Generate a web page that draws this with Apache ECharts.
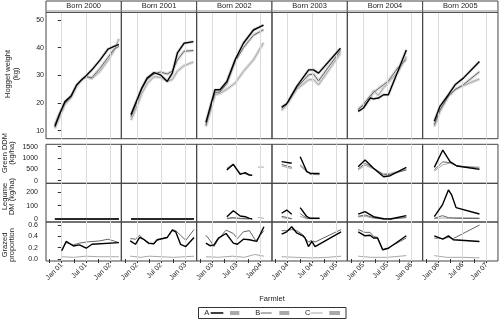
<!DOCTYPE html>
<html><head><meta charset="utf-8">
<script src="https://cdn.jsdelivr.net/npm/echarts@6/dist/echarts.min.js"></script>
<style>html,body{margin:0;padding:0;background:#fff}#c{width:500px;height:321px}</style>
</head><body><div id="c"></div>
<script>
// ---------- DATA (x = months relative to January after birth year) ----------
const strips = ['Born 2000','Born 2001','Born 2002','Born 2003','Born 2004','Born 2005'];
const xTickLabels = [
  ['Jan 01','Jul 01','Jan 02'],['Jan 02','Jul 02','Jan 03'],['Jan 03','Jul 03','Jan04'],
  ['Jan 04','Jul 04','Jan 05'],['Jan 05','Jul 05','Jan 06'],['Jan 06','Jul 06','Jan 07']];
const xTickMonths = [-3,0,3,6,9,12];
const xLabelMonths = [0,6,12];
const rowTitles = [['Hogget weight','(kg)'],['Green DDM','(kg/ha)'],['Legume','DM (kg/ha)'],['Grazed','proportion']];
const yTicks = [[10,20,30,40,50],[0,500,1000,1500],[0,100,200],[0,0.2,0.4,0.6]];
const legendNames = ['A','B','C'];

// Hogget weight (kg)
const weightA = [
  [[-1.7,11.5],[-0.5,16],[0.8,20.5],[2.3,22.5],[3.7,26.5],[5.0,28.5],[6.0,29.8],[7.5,32],[9.5,35.5],[11.5,39.5],[13.0,40.5],[14.2,41.2]],
  [[-1.5,15.8],[0,21.2],[1.2,25.5],[2.5,29],[4.2,31],[5.8,30.2],[7.5,27.8],[8.75,30.8],[10,38],[11.65,41.6],[14,42.2]],
  [[-1.6,13],[0.65,24.8],[1.9,24.8],[3.6,27.8],[5.65,35.6],[7.7,41.6],[10.2,46.4],[12.7,48.2]],
  [[-1.5,18.5],[-0.25,19.7],[2.25,26],[5.2,32],[6.4,32],[7.65,30.8],[13.1,39.8]],
  [[-1.2,17],[0.1,18.2],[1.75,21.8],[2.6,21.5],[3.8,21.8],[5.1,23],[6.3,23],[8.8,32],[10.75,39.2]],
  [[-1,13.4],[0.4,18.8],[2.5,23],[4.15,26.6],[6.2,29],[10.2,35]]
];
const weightB = [
  [[-1.7,12.2],[-0.5,16.5],[0.8,20],[2.3,22],[3.7,26.5],[5.0,28.3],[6.0,29.5],[7.5,29.2],[9.5,32.5],[11.5,36.5],[13.0,39.5],[14.2,40.5]],
  [[-1.5,15],[0,20.5],[1.2,25],[2.5,28.5],[4.2,30.5],[5.8,31.2],[7.5,30.5],[8.75,31.5],[10,35.5],[11.65,38.7],[14,39]],
  [[-1.6,12],[0.65,23.8],[1.9,24],[3.6,27],[5.65,35],[7.7,40],[10.2,44.5],[12.7,46.5]],
  [[-1.5,18],[-0.25,19.7],[2.25,25.5],[5.2,30.2],[6.4,30.5],[7.65,28],[13.1,39]],
  [[-1.2,17.5],[0.1,19.5],[1.75,22.5],[2.6,23.8],[3.8,25.2],[5.1,26.6],[6.3,28],[8.8,33],[10.75,35.8]],
  [[-1,12.2],[0.4,17.5],[2.5,22.5],[4.15,24.8],[6.2,26.6],[10.2,31.3]]
];
const weightC = [
  [[-1.7,10.8],[-0.5,15],[0.8,19.5],[2.3,22],[3.7,26],[5.0,28.5],[6.0,29.5],[7.5,28.8],[9.5,31.5],[11.5,35.5],[13.0,39],[14.2,43.2]],
  [[-1.5,13.8],[0,19],[1.2,23.5],[2.5,27],[4.2,29.5],[5.8,29.3],[7.5,27.8],[8.75,28.5],[10,31.5],[11.65,33.5],[14,34.8]],
  [[-1.6,11.5],[0.65,23],[1.9,23.5],[3.6,25],[5.65,27.2],[7.7,31.4],[10.2,35.6],[12.7,41.8]],
  [[-1.5,17.3],[-0.25,19.3],[2.25,25],[5.2,28.4],[6.4,28.5],[7.65,26.6],[13.1,38]],
  [[-1.2,18],[0.1,19],[1.75,21.5],[2.6,24.5],[3.8,22.8],[5.1,25.5],[6.3,27.5],[8.8,31.5],[10.75,36.8]],
  [[-1,11.5],[0.4,17],[2.5,22.5],[4.15,25],[6.2,26.3],[10.2,28.7]]
];
// Green DDM (kg/ha)
const greenA = [
  [],[],
  [[3.6,470],[5.2,723],[6.9,282],[8.15,353],[9.2,250],[9.9,240]],
  [[-1.5,840],[1.0,770],[2,null],[3.1,1060],[4.75,400],[5.6,330],[7.9,320]],
  [[-1.2,617],[0.5,913],[2.6,547],[5.1,176],[6.75,220],[10.75,590]],
  [[-1,590],[1.1,1354],[2.9,838],[4.6,648],[10.2,502]]
];
const greenB = [
  [],[],
  [[3.6,520],[5.2,700],[6.9,320],[8.15,320],[9.2,270]],
  [[-1.5,720],[1.0,590],[2,null],[3.1,700],[4.75,420],[5.6,300],[7.9,290]],
  [[-1.2,520],[0.5,760],[2.6,560],[5.1,260],[6.75,280],[10.75,470]],
  [[-1,480],[1.1,830],[2.9,800],[4.6,660],[10.2,550]]
];
const greenC = [
  [],[],
  [[3.6,560],[5.2,740],[6.9,330],[8.15,300],[9.2,230],[10.5,null],[11.3,600],[12.8,600]],
  [[-1.5,650],[1.0,530],[2,null],[3.1,650],[4.75,380],[5.6,280],[7.9,260]],
  [[-1.2,470],[0.5,680],[2.6,520],[5.1,300],[6.75,330],[10.75,500]],
  [[-1,420],[1.1,700],[2.9,780],[4.6,640],[10.2,600]]
];
// Legume DM (kg/ha)
const legumeA = [
  [[-1.7,0],[14.2,0]],
  [[-1.5,0],[14.15,0]],
  [[3.6,17],[5.2,62],[6.9,22],[8.15,17],[9.2,5],[9.9,0]],
  [[-1.5,43],[-0.25,67],[1.0,35],[2,null],[3.1,85],[4.75,17],[5.6,5],[7.9,5]],
  [[-1.2,37],[0.5,55],[2.6,17],[5.1,2],[6.75,0],[10.75,25]],
  [[-1,17],[1,105],[2.5,217],[3.3,180],[4.4,85],[10.2,37]]
];
const legumeB = [
  [[-1.7,0],[14.2,0]],
  [[-1.5,0],[14.15,0]],
  [[3.6,5],[5.2,10],[6.9,5],[8.15,3],[9.2,2]],
  [[-1.5,20],[1.0,3],[2,null],[3.1,40],[4.75,5],[7.9,3]],
  [[-1.2,20],[0.5,30],[2.6,10],[5.1,0],[6.75,0],[10.75,10]],
  [[-1,5],[1,25],[2.5,10],[4.4,5],[10.2,3]]
];
const legumeC = [
  [[-1.7,0],[14.2,0]],
  [[-1.5,0],[14.15,0]],
  [[3.6,2],[5.2,5],[6.9,2],[8.15,0],[9.2,0],[10.5,null],[11.3,12],[12.8,5]],
  [[-1.5,10],[1.0,0],[2,null],[3.1,20],[4.75,2],[7.9,2]],
  [[-1.2,15],[0.5,20],[2.6,5],[5.1,0],[6.75,0],[10.75,15]],
  [[-1,2],[1,8],[2.5,5],[4.4,10],[10.2,8]]
];
// Grazed proportion
const grazedA = [
  [[0,0.147],[1.1,0.31],[2.9,0.23],[4.4,0.25],[6.1,0.19],[7.5,0.26],[14.2,0.29]],
  [[-1.7,0.32],[-0.4,0.26],[0.65,0.38],[1.8,0.34],[2.9,0.28],[4.15,0.27],[5,0.34],[7.5,0.38],[8.75,0.51],[9.6,0.48],[10.8,0.26],[12.1,0.22],[14.15,0.38]],
  [[-1.6,0.28],[-0.6,0.235],[0.4,0.25],[1.5,0.37],[3.4,0.45],[5.2,0.28],[6.2,0.26],[7.7,0.35],[9.2,0.34],[11,0.31],[12.8,0.57]],
  [[-1.5,0.44],[-0.25,0.48],[1.0,0.57],[2.25,0.46],[3.75,0.41],[4.3,0.37],[5.15,0.22],[6.0,0.31],[6.8,0.22],[13.25,0.48]],
  [[-1.2,0.48],[0.5,0.41],[1.75,0.42],[2.6,0.37],[3.6,0.37],[4.9,0.16],[6.3,0.19],[10.75,0.41]],
  [[-1,0.41],[1.1,0.35],[2.5,0.41],[3.7,0.34],[10.2,0.31]]
];
const grazedB = [
  [[0,0.15],[1.1,0.29],[2.9,0.25],[4.4,0.28],[6.1,0.3],[9.5,0.32],[11.5,0.35],[14.2,0.29]],
  [[-1.7,0.36],[-0.4,0.35],[0.65,0.42],[1.8,0.33],[2.9,0.27],[4.15,0.27],[5,0.33],[7.5,0.38],[8.75,0.52],[9.6,0.5],[10.8,0.42],[12.1,0.33],[14.15,0.52]],
  [[-1.6,0.42],[-0.6,0.33],[0.4,0.22],[1.5,0.35],[3.4,0.51],[5.2,0.45],[6.2,0.36],[7.7,0.48],[9.2,0.5],[10.8,0.32],[12.8,0.5]],
  [[-1.5,0.5],[-0.25,0.5],[1.0,0.52],[2.25,0.5],[3.75,0.43],[4.3,0.37],[5.15,0.3],[6.0,0.33],[6.8,0.3],[13.25,0.52]],
  [[-1.2,0.52],[0.5,0.47],[1.75,0.47],[2.6,0.4],[3.6,0.38],[4.9,0.17],[6.3,0.2],[10.75,0.37]],
  [[-1,0.37],[1.1,0.36],[2.5,0.38],[3.7,0.36],[10.2,0.6]]
];
const grazedC = [
  [[0,0.04],[3,0.03],[6,0.05],[9,0.04],[14.2,0.04]],
  [[-1.7,0.05],[1,0.03],[3,0.05],[6,0.04],[9,0.03],[12,0.04],[14.15,0.05]],
  [[-1.6,0.04],[1.5,0.03],[5,0.05],[8,0.03],[10.5,0.08],[12.8,0.05]],
  [[-1.5,0.04],[2,0.03],[6,0.02],[10,0.03],[13.25,0.05]],
  [[-1.2,0.05],[2,0.03],[6,0.03],[10.75,0.06]],
  [[-1,0.06],[2,0.03],[6,0.03],[10.2,0.02]]
];

// ---------- LAYOUT ----------
const FONT = 'Liberation Sans, Arial, Helvetica, sans-serif';
const L0 = 46, CW = 75.33;
const rowBox = [[12.3,138.7],[144.3,183.3],[183.3,222],[222,261]];
const yRange = [[7.1,52.8],[-115,1606],[-22.5,267],[-0.035,0.653]];
const xRange = [-3.9,14.8];
const rows = [
  {A:weightA,B:weightB,C:weightC,band:true},
  {A:greenA,B:greenB,C:greenC},
  {A:legumeA,B:legumeB,C:legumeC},
  {A:grazedA,B:grazedB,C:grazedC}
];
const lineColor = {A:'#000000',B:'#666666',C:'#a8a8a8'};
const lineWidth = {A:1.4,B:1,C:1};

const grid=[], xAxis=[], yAxis=[], series=[];
for (let r=0;r<4;r++){
  for (let c=0;c<6;c++){
    const g=r*6+c;
    grid.push({left:L0+c*CW, top:rowBox[r][0], width:CW, height:rowBox[r][1]-rowBox[r][0],
      show:true, borderColor:'#444', borderWidth:1, backgroundColor:'transparent', containLabel:false});
    xAxis.push({type:'value', gridIndex:g, min:xRange[0], max:xRange[1],
      splitLine:{show:false}, axisLine:{show:false},
      axisTick:{show:r===3, customValues:xTickMonths, length:4, lineStyle:{color:'#333'}},
      axisLabel:{show:r===3, customValues:xLabelMonths, rotate:45, fontSize:7, margin:3,
        color:'#222', fontFamily:FONT, formatter:(v)=>xTickLabels[c][xLabelMonths.indexOf(v)]}});
    yAxis.push({type:'value', gridIndex:g, min:yRange[r][0], max:yRange[r][1],
      splitLine:{show:false}, axisLine:{show:false},
      axisTick:{show:c===0, customValues:yTicks[r], length:4, lineStyle:{color:'#333'}},
      axisLabel:{show:c===0, customValues:yTicks[r], fontSize:7, margin:r===0?2:8,
        color:'#222', fontFamily:FONT, formatter:(v)=> r===3? v.toFixed(1) : String(v)}});
    // vertical reference lines at Jan / Jul / Jan
    series.push({type:'line', xAxisIndex:g, yAxisIndex:g, data:[], silent:true, z:1,
      markLine:{silent:true, symbol:['none','none'], label:{show:false}, animation:false,
        lineStyle:{color:'#dcdcdc', width:1, type:'solid'},
        data:xLabelMonths.map(m=>({xAxis:m}))}});
    const row=rows[r];
    ['C','B','A'].forEach((k,i)=>{
      const d=row[k][c];
      if(!d.length) return;
      if(row.band){
        series.push({type:'line', xAxisIndex:g, yAxisIndex:g, data:d, symbol:'none', silent:true,
          z:2, lineStyle:{color:'#dadada', width:3.2, opacity:0.9}, animation:false});
      }
      series.push({type:'line', xAxisIndex:g, yAxisIndex:g, data:d, symbol:'none', silent:true,
        z:3+i, lineStyle:{color:lineColor[k], width:lineWidth[k]}, animation:false});
    });
  }
}

// ---------- GRAPHIC (strips, titles, legend) ----------
const graphic=[];
strips.forEach((s,c)=>{
  const x=L0+c*CW;
  graphic.push({type:'rect', shape:{x:x, y:1, width:CW, height:11.3}, style:{fill:'#fff', stroke:'#444', lineWidth:1}, z:10});
  graphic.push({type:'line', shape:{x1:x, y1:10.8, x2:x+CW, y2:10.8}, style:{stroke:'#aaa', lineWidth:1}, z:10});
  graphic.push({type:'text', x:x+CW/2, y:6.2, style:{text:s, fontSize:7.5, fontFamily:FONT, fill:'#222', textAlign:'center', textVerticalAlign:'middle'}, z:11});
});
const titlePos = [[[7.5,74],[16,74]],[[4.5,153],[11.7,153]],[[4.5,196.5],[11.7,196.5]],[[4.5,245],[11.7,245]]];
rowTitles.forEach((t,r)=>{
  t.forEach((line,j)=>{
    graphic.push({type:'text', x:titlePos[r][j][0], y:titlePos[r][j][1], rotation:Math.PI/2,
      style:{text:line, fontSize:7.5, fontFamily:FONT, fill:'#222', textAlign:'center', textVerticalAlign:'middle'}, z:11});
  });
});
graphic.push({type:'text', x:272, y:299, style:{text:'Farmlet', fontSize:7.5, fontFamily:FONT, fill:'#222', textAlign:'center', textVerticalAlign:'middle'}});
graphic.push({type:'rect', shape:{x:198.5, y:307.5, width:147.5, height:11}, style:{fill:'#fff', stroke:'#333', lineWidth:1}});
const legX = [[204.3,210.7,223.3,230,239.3],[255.3,260.7,271.7,279.3,289.3],[305,310.7,322.7,329.3,340]];
legendNames.forEach((n,i)=>{
  const p=legX[i];
  graphic.push({type:'text', x:p[0], y:313.2, style:{text:n, fontSize:7.5, fontFamily:FONT, fill:'#222', textAlign:'left', textVerticalAlign:'middle'}});
  graphic.push({type:'line', shape:{x1:p[1], y1:313, x2:p[2], y2:313}, style:{stroke:lineColor[n], lineWidth:n==='A'?1.5:1}});
  graphic.push({type:'rect', shape:{x:p[3], y:311, width:p[4]-p[3], height:4}, style:{fill:'#aaaaaa'}});
});

const chart = echarts.init(document.getElementById('c'), null, {renderer:'canvas'});
chart.setOption({animation:false, backgroundColor:'#fff', grid, xAxis, yAxis, series, graphic});
</script></body></html>
